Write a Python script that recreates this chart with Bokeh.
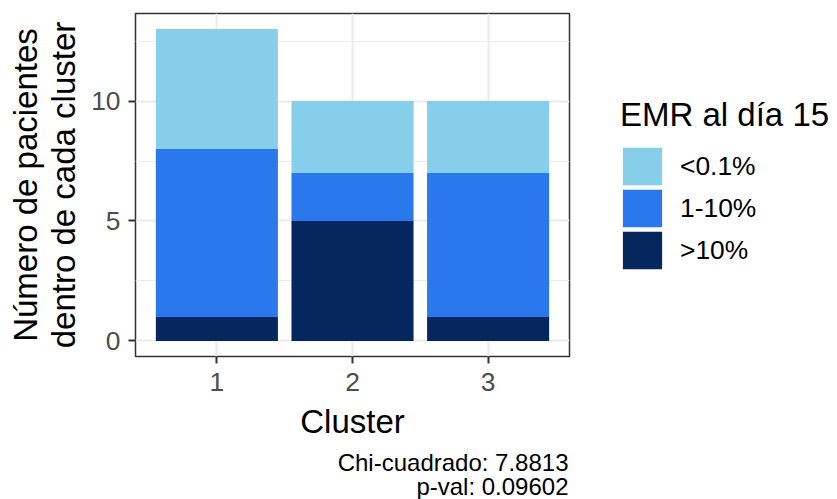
from bokeh.plotting import figure
from bokeh.layouts import row, column
from bokeh.models import (ColumnDataSource, FactorRange, Range1d, FixedTicker,
                          Legend, LegendItem, Label)
from bokeh.embed import file_html
from bokeh.resources import INLINE

# Pacientes por cluster y nivel de EMR al día 15
clusters = ["1", "2", "3"]
emr_labels = ["<0.1%", "1-10%", ">10%"]
n_menor_01 = [5, 3, 3]   # <0.1%
n_1_10 = [7, 2, 6]       # 1-10%
n_mayor_10 = [1, 5, 1]   # >10%
y_ticks = [0, 5, 10]

chi_cuadrado = "7.8813"
p_val = "0.09602"

colores = {"<0.1%": "#87CEEB", "1-10%": "#2B77EE", ">10%": "#05275E"}

FONT = "Liberation Sans"
BASE = 33.0
SMALL = f"{BASE * 0.8:.1f}px"

source = ColumnDataSource(dict(cluster=clusters, alto=n_mayor_10,
                               medio=n_1_10, bajo=n_menor_01))
stackers = ["alto", "medio", "bajo"]
bar_colors = [colores[">10%"], colores["1-10%"], colores["<0.1%"]]

# ---- main panel -------------------------------------------------------
p = figure(width=600, height=443,
           x_range=FactorRange(factors=clusters, range_padding=0.1,
                               range_padding_units="absolute"),
           y_range=Range1d(-0.65, 13.65),
           output_backend="svg", toolbar_location=None,
           min_border_left=135, min_border_right=31,
           min_border_top=13, min_border_bottom=87,
           background_fill_color="white", border_fill_color="white")

# stacked bars: >10% at the bottom, <0.1% on top
bars = p.vbar_stack(stackers, x="cluster", width=0.9, source=source,
                    fill_color=bar_colors, line_color=None)

p.outline_line_color = "#333333"
p.outline_line_width = 1.5
p.xgrid.grid_line_color = "#EBEBEB"
p.xgrid.grid_line_width = 2
p.ygrid.grid_line_color = "#EBEBEB"
p.ygrid.grid_line_width = 2
p.ygrid.minor_grid_line_color = "#EBEBEB"
p.ygrid.minor_grid_line_width = 1

step = y_ticks[1] - y_ticks[0]
minor = [t + step / 2 for t in y_ticks]
p.yaxis.ticker = FixedTicker(ticks=y_ticks, minor_ticks=minor)

for ax in (p.xaxis, p.yaxis):
    ax.axis_line_color = None
    ax.major_tick_in = 0
    ax.major_tick_out = 7
    ax.major_tick_line_color = "#333333"
    ax.major_tick_line_width = 2
    ax.minor_tick_line_color = None
    ax.major_label_text_font = FONT
    ax.major_label_text_font_size = SMALL
    ax.major_label_text_color = "#4D4D4D"
    ax.axis_label_text_font = FONT
    ax.axis_label_text_font_size = f"{BASE:.0f}px"
    ax.axis_label_text_font_style = "normal"
    ax.axis_label_text_color = "black"
p.xaxis.major_label_standoff = 9
p.yaxis.major_label_standoff = 8

p.xaxis.axis_label = "Cluster"
p.xaxis.axis_label_standoff = 9
p.yaxis.axis_label = "Número de pacientes\ndentro de cada cluster"
p.yaxis.axis_label_standoff = 6
p.yaxis.axis_label_text_line_height = 1.03

# ---- legend panel -----------------------------------------------------
p_leg = figure(width=237, height=443,
               x_range=FactorRange(factors=clusters), y_range=Range1d(0, 14),
               x_axis_location=None, y_axis_location=None,
               output_backend="svg", toolbar_location=None, min_border=0,
               outline_line_color=None, background_fill_color="white",
               border_fill_color="white")
p_leg.grid.visible = False

# hidden copies of the bars, only used to draw the legend keys
keys = p_leg.vbar_stack(stackers, x="cluster", width=0.9, source=source,
                        fill_color=bar_colors, line_color=bar_colors,
                        line_width=4, line_join="miter", visible=False)

items = [LegendItem(label=lab, renderers=[r])
         for lab, r in zip(emr_labels, [keys[2], keys[1], keys[0]])]
legend = Legend(items=items, location=(20, 85),
                title="EMR al día 15", title_text_font=FONT,
                title_text_font_size=f"{BASE:.0f}px", title_text_font_style="normal",
                title_text_color="black", title_standoff=11,
                glyph_width=44, glyph_height=42, spacing=0,
                padding=0, margin=0, border_line_color=None,
                background_fill_color=None, background_fill_alpha=0,
                label_standoff=16, label_text_font=FONT,
                label_text_font_size=SMALL,
                label_text_color="black", label_text_baseline="middle")
p_leg.add_layout(legend)

# ---- caption strip ----------------------------------------------------
p_cap = figure(width=837, height=56, x_range=Range1d(0, 1), y_range=Range1d(0, 1),
               x_axis_location=None, y_axis_location=None,
               output_backend="svg", toolbar_location=None, min_border=0,
               outline_line_color=None, background_fill_color="white",
               border_fill_color="white")
p_cap.grid.visible = False

for txt, y in ((f"Chi-cuadrado: {chi_cuadrado}", 37), (f"p-val: {p_val}", 13.5)):
    p_cap.add_layout(Label(x=568, y=y, x_units="screen", y_units="screen", text=txt,
                           text_font=FONT, text_font_size="24px", text_color="black",
                           text_align="right", text_baseline="alphabetic"))

layout = column(row(p, p_leg), p_cap)

open("out.html", "w").write(file_html(layout, INLINE))
